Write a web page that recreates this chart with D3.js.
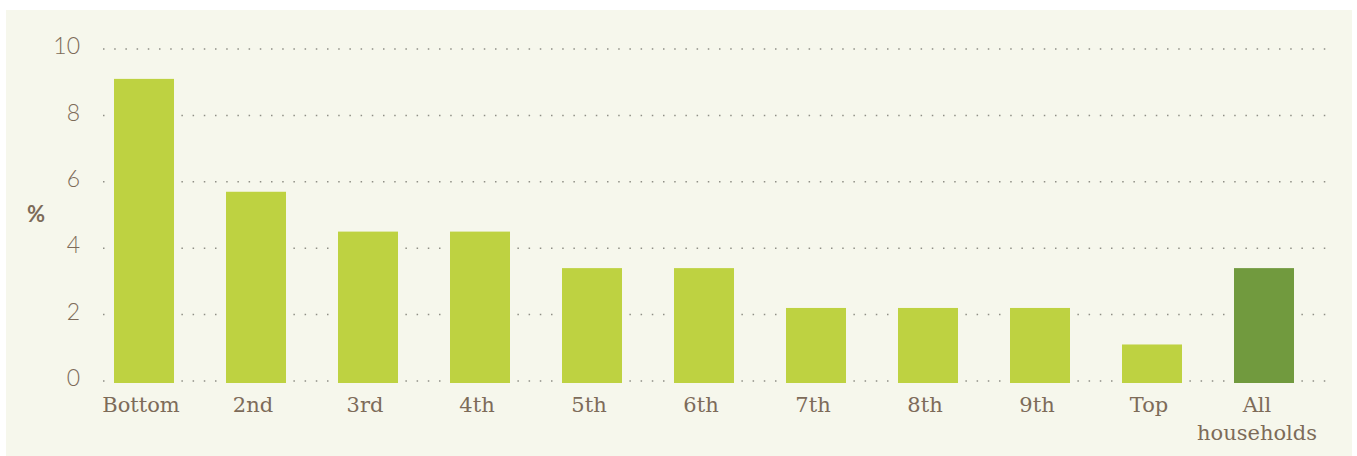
<!DOCTYPE html>
<meta charset="utf-8">
<style>
body { margin: 0; background: #fff; }
.tick text { fill: #7d6b59; }
</style>
<body>
<script src="https://cdn.jsdelivr.net/npm/d3@7"></script>
<script>

// deciles of household income
var categories = ["Bottom", "2nd", "3rd", "4th", "5th", "6th", "7th", "8th", "9th", "Top", "All households"];
var values = [9.1, 5.7, 4.5, 4.5, 3.4, 3.4, 2.2, 2.2, 2.2, 1.1, 3.4];
var yTicks = [0, 2, 4, 6, 8, 10];

var W = 1357, H = 456;

var svg = d3.select("body").append("svg")
    .attr("width", W)
    .attr("height", H);

// background panel
svg.append("rect")
    .attr("x", 6).attr("y", 10)
    .attr("width", 1346).attr("height", 446)
    .attr("fill", "#f6f7ec");

var x = d3.scaleBand()
    .domain(categories)
    .range([88, 1320])
    .paddingInner(52 / 112)
    .paddingOuter(26 / 112);

var y = d3.scaleLinear()
    .domain([0, 10])
    .range([381, 49]);

// dotted gridlines
svg.append("g")
  .selectAll("line")
  .data(yTicks)
  .join("line")
    .attr("x1", 103)
    .attr("x2", 1330)
    .attr("y1", function(d) { return y(d); })
    .attr("y2", function(d) { return y(d); })
    .attr("stroke", "#8f8f86")
    .attr("stroke-width", 1.5)
    .attr("stroke-dasharray", "1.5 9.7");

// bars (sit a touch below the zero line, as in the original)
svg.append("g")
  .selectAll("rect")
  .data(values)
  .join("rect")
    .attr("x", function(d, i) { return x(categories[i]); })
    .attr("y", function(d) { return y(d); })
    .attr("width", x.bandwidth())
    .attr("height", function(d) { return y(0) - y(d) + 2; })
    .attr("fill", function(d, i) { return i == categories.length - 1 ? "#719a3e" : "#bed241"; });

// y axis
var yAxis = svg.append("g")
    .attr("transform", "translate(80,0)")
    .call(d3.axisLeft(y).tickValues(yTicks).tickSize(0).tickPadding(0));
yAxis.select(".domain").remove();
yAxis.selectAll("text")
    .attr("font-family", "Lato, sans-serif")
    .attr("font-weight", 300)
    .attr("font-size", 23)
    .attr("dy", "0.2em");

// x axis
var xAxis = svg.append("g")
    .attr("transform", "translate(0," + y(0) + ")")
    .call(d3.axisBottom(x).tickSize(0).tickPadding(0));
xAxis.select(".domain").remove();
xAxis.selectAll("text")
    .attr("font-family", "'DejaVu Serif', serif")
    .attr("font-size", 21)
    .attr("dy", null)
    .attr("y", 31)
    .attr("x", -3)
    .each(function(d) {
      if (d == "All households") {
        var t = d3.select(this);
        t.text(null);
        t.append("tspan").attr("x", -7).text("All");
        t.append("tspan").attr("x", -7).attr("dy", 28).text("households");
      }
    });

// y axis title
svg.append("text")
    .attr("x", 36)
    .attr("y", 222)
    .attr("text-anchor", "middle")
    .attr("font-family", "Lato, sans-serif")
    .attr("font-weight", 700)
    .attr("font-size", 22)
    .attr("fill", "#7d6b59")
    .text("%");

</script>
</body>
